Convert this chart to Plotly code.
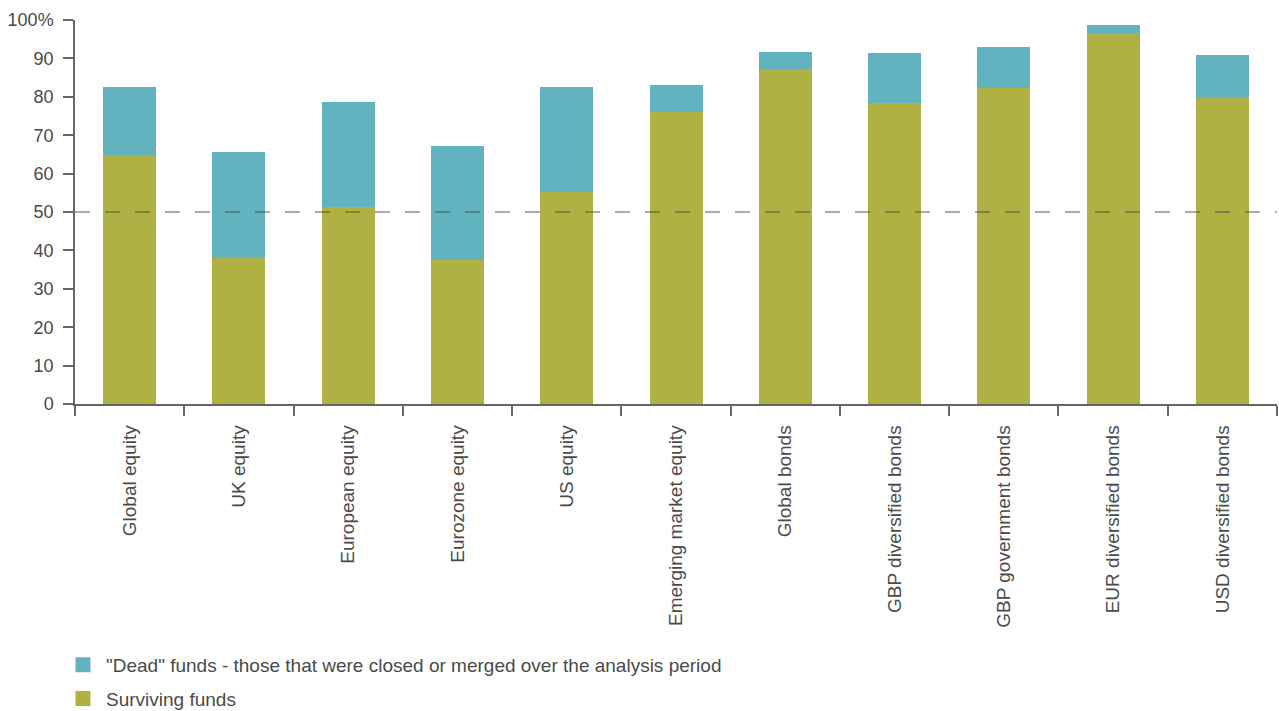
import plotly.graph_objects as go

categories = ["Global equity", "UK equity", "European equity", "Eurozone equity", "US equity",
              "Emerging market equity", "Global bonds", "GBP diversified bonds",
              "GBP government bonds", "EUR diversified bonds", "USD diversified bonds"]
surviving = [64.8, 37.9, 51.2, 37.4, 55.2, 76.1, 87.2, 78.3, 82.3, 96.6, 79.7]
total = [82.5, 65.6, 78.6, 67.2, 82.5, 83.0, 91.7, 91.4, 93.0, 98.7, 90.9]
dead = [round(t - s, 1) for t, s in zip(total, surviving)]
y_ticks = [0, 10, 20, 30, 40, 50, 60, 70, 80, 90, 100]
y_ticktext = ["0", "10", "20", "30", "40", "50", "60", "70", "80", "90", "100%"]
threshold = 50
name_surv = "Surviving funds"
name_dead = '"Dead" funds - those that were closed or merged over the analysis period'

FONT = "Liberation Sans"
TXT = "#4a4a4a"
C_SURV = "#AFB143"
C_DEAD = "#62B3BF"

fig = go.Figure()
fig.add_trace(go.Bar(x=categories, y=surviving, name=name_surv, showlegend=False,
                     marker=dict(color=C_SURV, line=dict(width=0))))
fig.add_trace(go.Bar(x=categories, y=dead, name=name_dead, showlegend=False,
                     marker=dict(color=C_DEAD, line=dict(width=0))))
# legend entries with larger square swatches
fig.add_trace(go.Scatter(x=[None], y=[None], mode="markers", name=name_dead, legendgroup="d",
                         marker=dict(symbol="square", size=15, color=C_DEAD)))
fig.add_trace(go.Scatter(x=[None], y=[None], mode="markers", name=name_surv, legendgroup="s",
                         marker=dict(symbol="square", size=15, color=C_SURV)))

fig.add_shape(type="line", xref="paper", yref="y", x0=0, x1=1, y0=threshold, y1=threshold,
              line=dict(color="rgba(70,70,70,0.6)", width=1.5, dash="15px,15px"), layer="above")

fig.update_layout(
    barmode="stack",
    bargap=0.515,
    width=1279, height=711,
    margin=dict(l=75, r=2, t=20, b=307, autoexpand=False),
    plot_bgcolor="white", paper_bgcolor="white",
    font=dict(family=FONT, size=19, color=TXT),
    showlegend=True,
    legend=dict(orientation="v", x=-0.0125, xanchor="left", y=-0.63, yanchor="top",
                traceorder="grouped", font=dict(size=19, color=TXT), tracegroupgap=6,
                itemsizing="trace", itemwidth=36),
    xaxis=dict(showline=True, linecolor="#666", linewidth=1.5, ticks="outside",
               tickson="boundaries", ticklen=10, tickcolor="#666", tickwidth=1.5,
               tickangle=-90, tickfont=dict(size=19, color=TXT), showgrid=False,
               ticklabelstandoff=12),
    yaxis=dict(range=[0, 100], tickvals=y_ticks, ticktext=y_ticktext, showline=True,
               linecolor="#666", linewidth=1.5, ticks="outside", ticklen=10, tickcolor="#666",
               tickwidth=1.5, showgrid=False, zeroline=False, tickfont=dict(size=18, color=TXT),
               ticklabelstandoff=6),
)

fig.write_html("out.html")
